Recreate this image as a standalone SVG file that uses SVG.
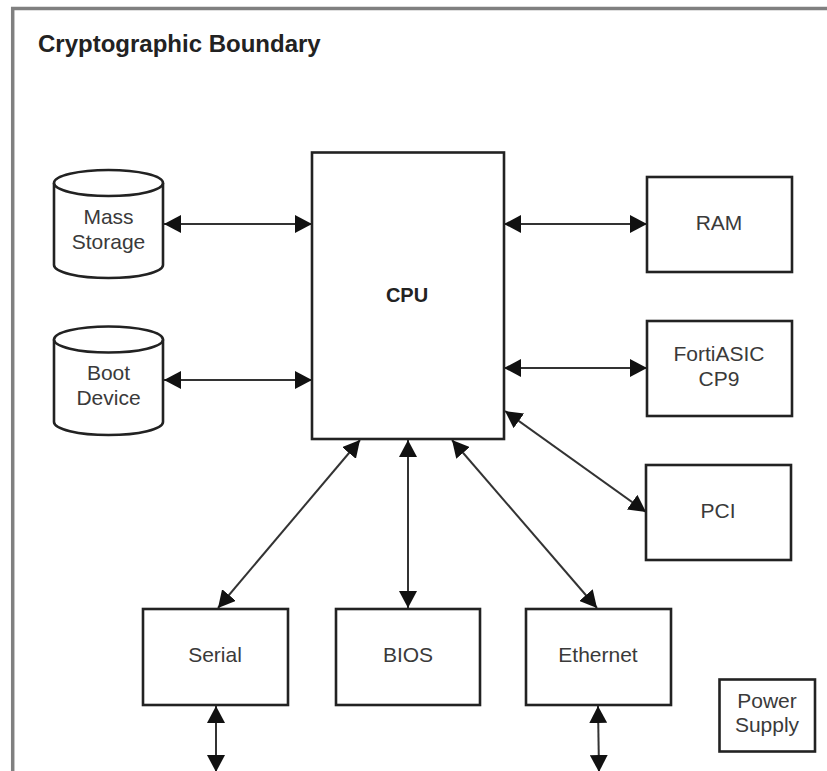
<svg xmlns="http://www.w3.org/2000/svg" width="827" height="771" viewBox="0 0 827 771">
<style>
.box{fill:#fff;stroke:#222;stroke-width:2.6}
.lbl{font-family:"Liberation Sans",Arial,sans-serif;font-size:21px;fill:#3a3a3a;text-anchor:middle}
.bold{font-weight:bold;fill:#222}
.conn{stroke:#333;stroke-width:2;fill:none;marker-start:url(#ah);marker-end:url(#ah)}
</style>
<defs>
<marker id="ah" markerUnits="userSpaceOnUse" markerWidth="17" markerHeight="18" refX="17" refY="9" orient="auto-start-reverse" viewBox="0 0 17 18">
<path d="M0,0 L17,9 L0,18 z" fill="#111"/>
</marker>
</defs>
<rect width="827" height="771" fill="#fff"/>
<g id="boundary">
<path d="M12.7,771 V8.6 H827" fill="none" stroke="#808080" stroke-width="3.5"/>
<text x="38" y="52" class="lbl bold" style="font-size:24px;text-anchor:start">Cryptographic Boundary</text>
</g>
<g id="connectors">
<line class="conn" x1="164" y1="224" x2="312" y2="224"/>
<line class="conn" x1="164" y1="380" x2="312" y2="380"/>
<line class="conn" x1="504" y1="224" x2="647" y2="224"/>
<line class="conn" x1="504" y1="368" x2="647" y2="368"/>
<line class="conn" x1="505" y1="411" x2="646" y2="512"/>
<line class="conn" x1="360" y1="440" x2="218" y2="608"/>
<line class="conn" x1="408" y1="440" x2="408" y2="608"/>
<line class="conn" x1="452" y1="440" x2="597" y2="608"/>
<line class="conn" x1="216" y1="706" x2="216" y2="772"/>
<line class="conn" x1="598" y1="706" x2="599" y2="772"/>
</g>
<g id="cpu">
<rect class="box" x="312" y="152.5" width="192" height="286.5"/>
<text class="lbl bold" x="407" y="302" style="font-size:20px">CPU</text>
</g>
<g id="mass-storage">
<path class="box" d="M54,183 V265 A54.5,13 0 0 0 163,265 V183"/>
<ellipse class="box" cx="108.5" cy="183" rx="54.5" ry="13"/>
<text class="lbl" x="108.5" y="224">Mass</text>
<text class="lbl" x="108.5" y="249">Storage</text>
</g>
<g id="boot-device">
<path class="box" d="M54,339.5 V422 A54.5,13 0 0 0 163,422 V339.5"/>
<ellipse class="box" cx="108.5" cy="339.5" rx="54.5" ry="13"/>
<text class="lbl" x="108.5" y="380">Boot</text>
<text class="lbl" x="108.5" y="405">Device</text>
</g>
<g id="ram">
<rect class="box" x="647" y="177" width="145" height="95"/>
<text class="lbl" x="719" y="230">RAM</text>
</g>
<g id="fortiasic">
<rect class="box" x="647" y="321" width="145" height="95"/>
<text class="lbl" x="719" y="361">FortiASIC</text>
<text class="lbl" x="719" y="386">CP9</text>
</g>
<g id="pci">
<rect class="box" x="646" y="465" width="145" height="95"/>
<text class="lbl" x="718" y="518">PCI</text>
</g>
<g id="serial">
<rect class="box" x="143" y="609" width="145" height="96"/>
<text class="lbl" x="215" y="662">Serial</text>
</g>
<g id="bios">
<rect class="box" x="336" y="609" width="144" height="96"/>
<text class="lbl" x="408" y="662">BIOS</text>
</g>
<g id="ethernet">
<rect class="box" x="526" y="609" width="145" height="96"/>
<text class="lbl" x="598" y="662">Ethernet</text>
</g>
<g id="power-supply">
<rect class="box" x="719.5" y="679.5" width="95.5" height="72"/>
<text class="lbl" x="767" y="708">Power</text>
<text class="lbl" x="767" y="732">Supply</text>
</g>
</svg>
